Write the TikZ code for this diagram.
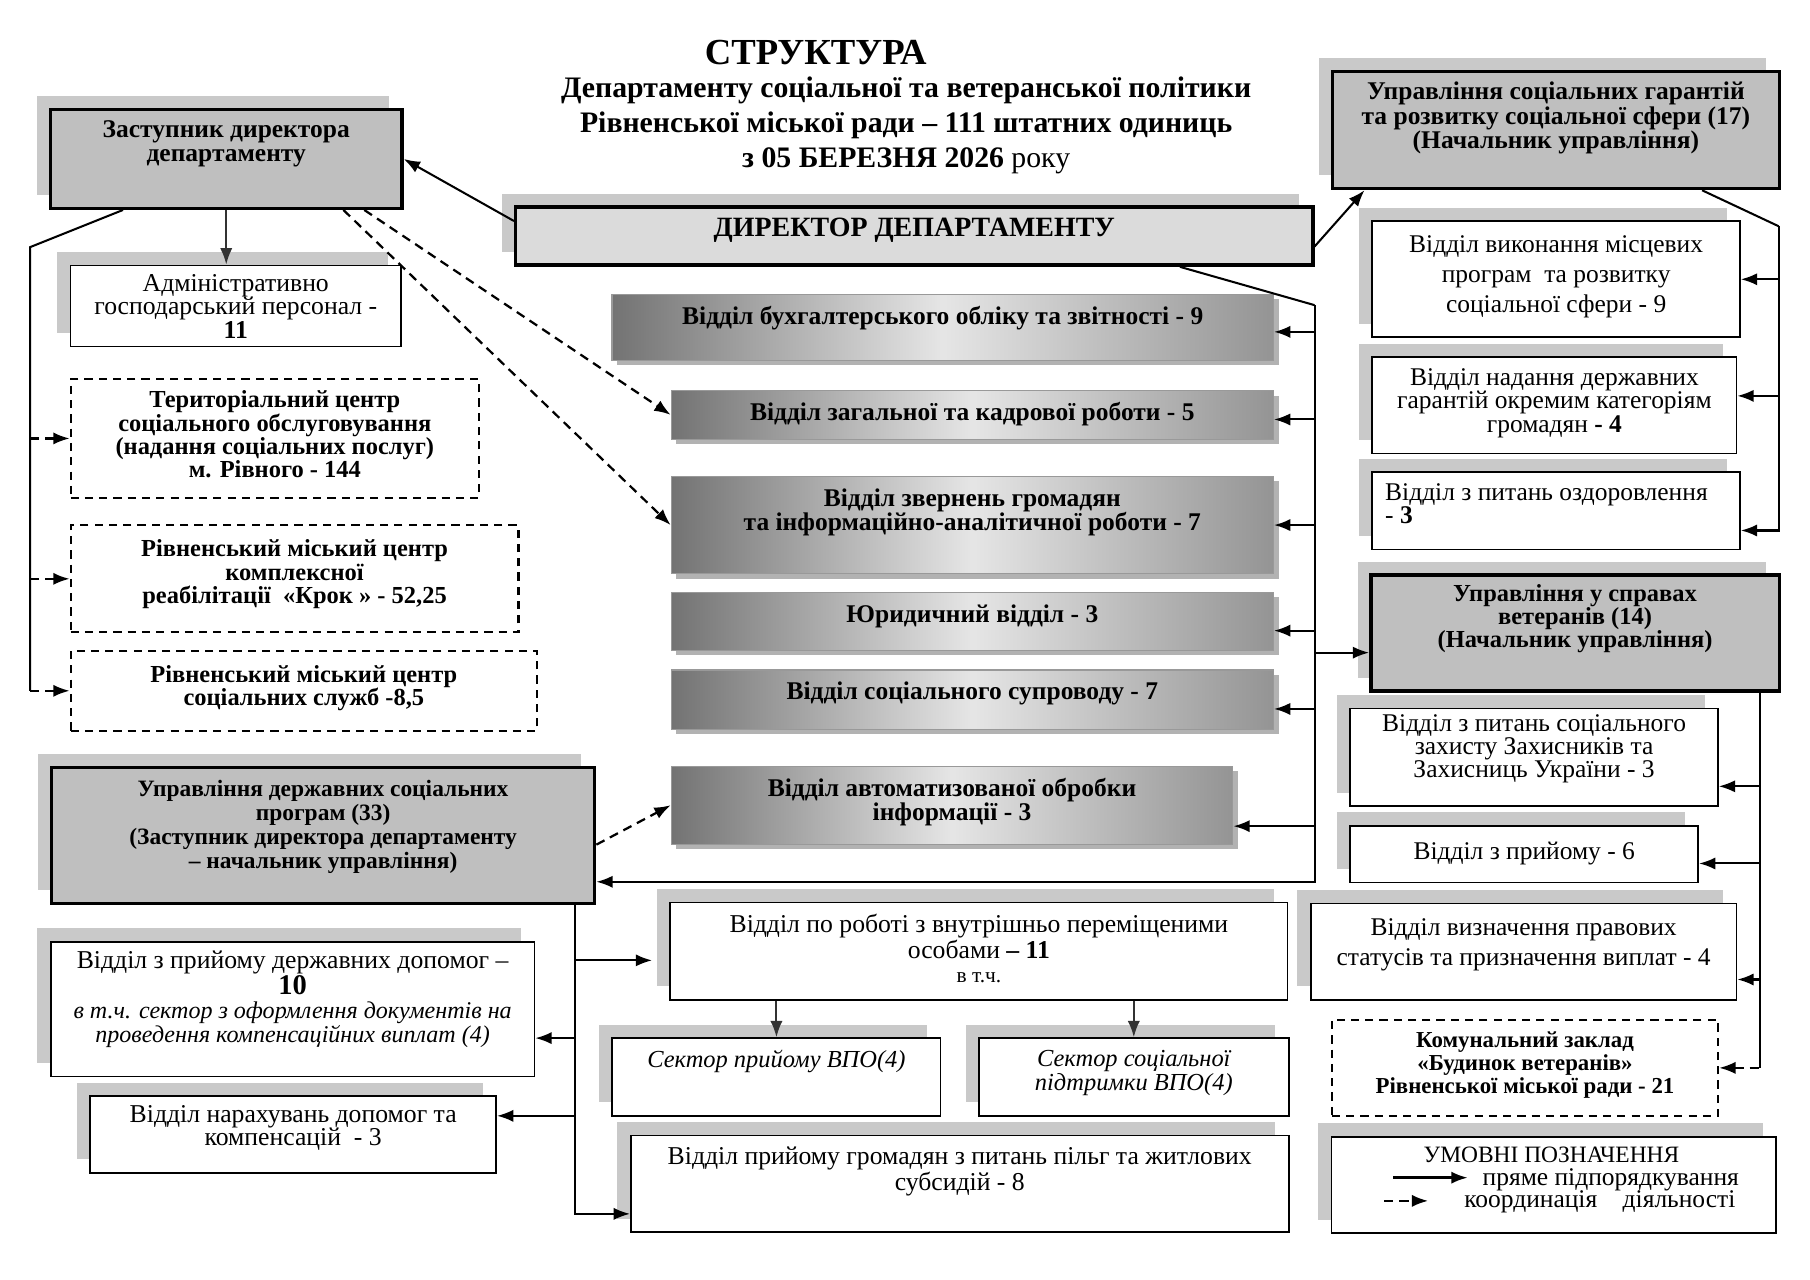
\documentclass[tikz,border=0pt]{standalone}
\usepackage{fontspec}
\setmainfont{Liberation Serif}
\usetikzlibrary{arrows.meta, calc, shadows}

\tikzset{
  sz/.style 2 args={anchor=north west, inner sep=0pt, minimum width=#1*0.02cm, minimum height=#2*0.02cm},
  lbl/.style={anchor=north, align=center, inner sep=0pt, yshift=-0.2cm},
  txt/.style 2 args={label={[lbl,#1]north:{#2}}},
  shd/.style={general shadow={fill=gray!42, shadow xshift=-0.23cm, shadow yshift=0.23cm}},
  dark/.style={draw, line width=1.7pt, fill=gray!50, shd},
  plain/.style={draw, line width=0.8pt, fill=white, shd},
  grad/.style={draw=gray!80, line width=0.6pt, left color=black!55, right color=black!42, middle color=black!10,
    general shadow={fill=gray!60, shadow xshift=2.5pt, shadow yshift=-2.5pt}},
  dbox/.style={draw, line width=1pt, fill=white, dash pattern=on 4pt off 3pt},
  bfa/.style={font=\fontsize{12.5}{11.9}\selectfont\bfseries},
  bfs/.style={font=\fontsize{11.5}{11.8}\selectfont\bfseries},
  wbf/.style={font=\fontsize{12}{11.4}\selectfont\bfseries},
  rga/.style={font=\fontsize{12.6}{11.6}\selectfont},
  rgw/.style={font=\fontsize{12.5}{11.4}\selectfont},
  rgb/.style={font=\fontsize{12.5}{14.8}\selectfont},
  itf/.style={font=\fontsize{12}{11.8}\selectfont\itshape},
  dsh/.style={line width=1.1pt, dash pattern=on 4.5pt off 3pt},
}

\begin{document}
\begin{tikzpicture}[x=0.02cm, y=-0.02cm, line width=1pt, >={Latex[length=8pt,width=6pt]}]
  \useasboundingbox (0,0) rectangle (1560,1103);

  % title
  \node[font=\fontsize{18}{20}\selectfont\bfseries] (ttl) at (703,45) {СТРУКТУРА};
  \node[align=center, font=\fontsize{14.6}{17}\selectfont\bfseries] (sub) at (781,108)
    {Департаменту соціальної та ветеранської політики\\ Рівненської міської ради – 111 штатних одиниць\\ з 05 БЕРЕЗНЯ 2026 \textmd{року}};

  % heads
  \node[dark, sz={303}{85}, txt={bfa}{Заступник директора\\ департаменту}] (zam) at (42,93) {};
  \node[dark, fill=gray!28, sz={687}{50}, txt={font=\fontsize{13.7}{15}\selectfont\bfseries}{ДИРЕКТОР ДЕПАРТАМЕНТУ}] (dir) at (443,177) {};
  \node[dark, sz={385}{101}, txt={bfa}{Управління соціальних гарантій\\ та розвитку соціальної сфери (17)\\ (Начальник управління)}] (gar) at (1147,60) {};
  \node[dark, sz={468}{117}, txt={bfs,yshift=-0.03cm}{Управління державних соціальних\\ програм (33)\\ (Заступник директора департаменту\\ – начальник управління)}] (dsp) at (43,660) {};
  \node[dark, sz={352}{100}, txt={wbf,yshift=0.03cm}{Управління у справах\\ ветеранів (14)\\ (Начальник управління)}] (veter) at (1180,494) {};

  % left column
  \node[plain, sz={285}{70}, txt={rga,yshift=0.05cm}{Адміністративно\\ господарський персонал -\\ \textbf{11}}] (adm) at (60,228) {};
  \node[dbox, sz={352}{102}, txt={wbf}{Територіальний центр\\ соціального обслуговування\\ (надання соціальних послуг)\\ м. Рівного - 144}] (terr) at (60,326) {};
  \node[dbox, sz={386}{92}, txt={wbf,yshift=-0.05cm}{Рівненський міський центр\\ комплексної\\ реабілітації~ «Крок » - 52,25}] (krok) at (60,452) {};
  \node[dbox, sz={402}{69}, txt={wbf,yshift=-0.05cm}{Рівненський міський центр\\ соціальних служб -8,5}] (csss) at (60,560) {};
  \node[plain, sz={417}{116}, txt={rga,yshift=0.05cm}{Відділ з прийому державних допомог –\\ {\fontsize{14}{14}\selectfont\bfseries 10}\\
    {\fontsize{11.8}{11}\selectfont\itshape в т.ч. сектор з оформлення документів на}\\ {\fontsize{11.8}{11}\selectfont\itshape проведення компенсаційних виплат (4)}}] (dopom) at (43,811) {};
  \node[plain, sz={350}{66}, txt={rga,yshift=0.05cm}{Відділ нарахувань допомог та\\ компенсацій~ - 3}] (narah) at (77,944) {};

  % middle column
  \node[grad, sz={570}{57}, txt={bfa}{Відділ бухгалтерського обліку та звітності - 9}] (buh) at (527,253) {};
  \node[grad, sz={519}{42}, txt={bfa}{Відділ загальної та кадрової роботи - 5}] (zag) at (578,336) {};
  \node[grad, sz={519}{84}, txt={bfa}{Відділ звернень громадян\\ та інформаційно-аналітичної роботи - 7}] (zvern) at (578,410) {};
  \node[grad, sz={519}{50}, txt={bfa}{Юридичний відділ - 3}] (yur) at (578,510) {};
  \node[grad, sz={519}{51}, txt={bfa}{Відділ соціального супроводу - 7}] (suprov) at (578,577) {};
  \node[grad, sz={484}{67}, txt={bfa}{Відділ автоматизованої обробки\\ інформації - 3}] (avto) at (578,660) {};
  \node[plain, sz={532}{84}, txt={rga}{Відділ по роботі з внутрішньо переміщеними\\ особами \textbf{– 11}\\ {\fontsize{10.5}{11}\selectfont в т.ч.}}] (vpo) at (577,777) {};
  \node[plain, sz={283}{67}, txt={itf}{Сектор прийому ВПО(4)}] (sek1) at (527,894) {};
  \node[plain, sz={267}{67}, txt={itf}{Сектор соціальної\\ підтримки ВПО(4)}] (sek2) at (843,894) {};
  \node[plain, sz={567}{83}, txt={rga}{Відділ прийому громадян з питань пільг та житлових\\ субсидій - 8}] (pilg) at (543,978) {};

  % right column
  \node[plain, sz={317}{100}, txt={rgb,yshift=-0.04cm}{Відділ виконання місцевих\\ програм~ та розвитку\\ соціальної сфери - 9}] (vykon) at (1182,190) {};
  \node[plain, sz={314}{83}, txt={rgw}{Відділ надання державних\\ гарантій окремим категоріям\\ громадян \textbf{- 4}}] (nadan) at (1182,307) {};
  \node[plain, sz={317}{67}, label={[lbl, rgw, anchor=north west, align=left, xshift=0.22cm]north west:{Відділ з питань оздоровлення\\ - \textbf{3}}}] (ozdor) at (1182,406) {};
  \node[plain, sz={317}{84}, txt={rgw,yshift=0.1cm}{Відділ з питань соціального\\ захисту Захисників та\\ Захисниць України - 3}] (zahyst) at (1163,610) {};
  \node[plain, sz={300}{49}, txt={rgw,yshift=-0.07cm}{Відділ з прийому - 6}] (pryyom) at (1163,711) {};
  \node[plain, sz={367}{83}, txt={rgb,yshift=-0.05cm}{Відділ визначення правових\\ статусів та призначення виплат - 4}] (vyzn) at (1129,778) {};
  \node[dbox, sz={333}{83}, txt={font=\fontsize{11.2}{11.4}\selectfont\bfseries}{Комунальний заклад\\ «Будинок ветеранів»\\ Рівненської міської ради - 21}] (komun) at (1147,878) {};

  % legend
  \node[plain, sz={383}{83}] (leg) at (1147,979) {};
  \node[font=\fontsize{11.5}{12}\selectfont] (legt) at ($(leg.north)+(-2,16)$) {УМОВНІ ПОЗНАЧЕННЯ};
  \node[rgw, anchor=east] (leg1) at ($(leg.north east)+(-26,38)$) {пряме підпорядкування};
  \node[rgw, anchor=east] (leg2) at ($(leg.north east)+(-29,57)$) {координація\quad діяльності};
  \draw[->, line width=1.3pt] ($(leg.north west)+(54,36)$) coordinate (la) -- ($(leg.north west)+(118,36)$);
  \draw[->, dsh, line width=1.3pt] ($(leg.north west)+(46,56)$) coordinate (lb) -- ($(leg.north west)+(84,56)$);

  % spines
  \coordinate (sp) at ($(dir.south east)+(0,33)$);
  \coordinate (rs) at ($(gar.south east)+(-2,31)$);
  \coordinate (ls) at ($(zam.south west)+(-16,32)$);
  \coordinate (vs) at ($(veter.south east)+(-18,0)$);
  \coordinate (ds) at ($(dsp.south east)+(-18,0)$);

  \path[->]
    ($(dir.west)+(0,-13)$) edge (zam.east)
    ($(dir.east)+(0,9)$) edge ($(gar.south west)+(29,0)$);
  \path[->, gray!40!black]
    (zam.south) edge (zam.south |- adm.north)
    (vpo.south -| sek1.north) edge (sek1.north)
    (vpo.south -| sek2.north) edge (sek2.north);
  \path[->, dsh]
    ($(zam.south east)+(-34,0)$) edge (zag.west)
    ($(zam.south east)+(-52,0)$) edge (zvern.west)
    ($(dsp.east)+(0,8)$) edge (avto.west);

  % director
  \draw ($(dir.south east)+(-116,0)$) -- (sp);
  \draw[<-] ($(buh.east)+(0,4)$) -| (sp);
  \draw[<-] ($(zag.east)+(0,4)$) -| (sp);
  \draw[<-] (zvern.east) -| (sp);
  \draw[<-] ($(yur.east)+(0,8)$) -| (sp);
  \draw[<-] ($(suprov.east)+(0,8)$) -| (sp);
  \draw[<-] ($(avto.east)+(0,18)$) -| (sp);
  \draw[<-] ($(veter.west)+(0,17)$) -| (sp);
  \draw[<-] ($(dsp.east)+(0,40)$) -| (sp);

  % deputy
  \draw ($(zam.south west)+(64,0)$) -- (ls) -- (ls |- csss.west);
  \foreach \b in {terr,krok,csss}
    \draw[<-, dsh] (\b.west) -- (ls |- \b.west);

  % social guarantees
  \draw ($(gar.south east)+(-68,0)$) -- (rs);
  \draw[<-] (vykon.east) -| (rs);
  \draw[<-] ($(nadan.east)+(0,-8)$) -| (rs);
  \draw[<-] ($(ozdor.east)+(0,17)$) -| (rs);

  % veterans
  \draw[<-] ($(zahyst.east)+(0,25)$) -| (vs);
  \draw[<-] ($(pryyom.east)+(0,8)$) -| (vs);
  \draw[<-] ($(vyzn.east)+(0,24)$) -| (vs);
  \draw (vs) -- (vs |- komun.east);
  \draw[<-, dsh] (komun.east) -- (vs |- komun.east);

  % state programmes
  \draw[<-] ($(dopom.east)+(0,25)$) -| (ds);
  \draw[<-] ($(narah.east)+(0,-16)$) -| (ds);
  \draw[<-, shorten <=0.3cm] ($(vpo.west)+(0,8)$) -| (ds);
  \draw[<-] ($(pilg.west)+(0,26)$) -| (ds);
\end{tikzpicture}
\end{document}
